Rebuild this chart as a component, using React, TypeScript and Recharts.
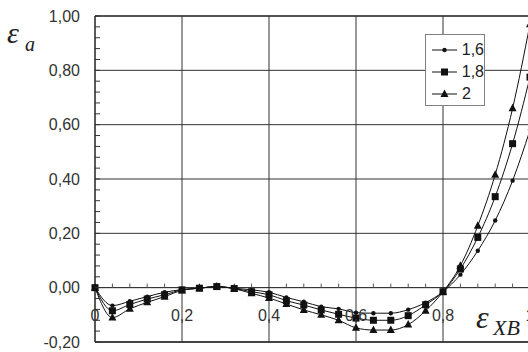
import { LineChart, Line, XAxis, YAxis, ReferenceLine, ReferenceDot, Legend } from 'recharts';

// relative strain on the x axis
const xValues = [
  0, 0.04, 0.08, 0.12, 0.16, 0.2, 0.24, 0.28, 0.32, 0.36, 0.4, 0.44, 0.48,
  0.52, 0.56, 0.6, 0.64, 0.68, 0.72, 0.76, 0.8, 0.84, 0.88, 0.92, 0.96, 1.0,
];
const series16 = [
  0, -0.066, -0.05, -0.033, -0.017, -0.007, -0.002, 0.004, -0.002, -0.008, -0.017, -0.036, -0.052,
  -0.07, -0.078, -0.092, -0.094, -0.094, -0.081, -0.055, -0.015, 0.048, 0.136, 0.247, 0.394, 0.58,
];
const series18 = [
  0, -0.085, -0.062, -0.042, -0.026, -0.008, -0.002, 0.004, -0.003, -0.015, -0.026, -0.048, -0.064,
  -0.082, -0.098, -0.112, -0.12, -0.12, -0.103, -0.063, -0.015, 0.069, 0.185, 0.335, 0.53, 0.775,
];
const series2 = [
  0, -0.11, -0.078, -0.054, -0.033, -0.01, -0.002, 0.004, -0.004, -0.021, -0.038, -0.06, -0.082,
  -0.1, -0.12, -0.148, -0.156, -0.156, -0.136, -0.085, -0.015, 0.081, 0.228, 0.416, 0.66, 0.97,
];
const seriesNames = ['1,6', '1,8', '2'];

const yMajorTicks = [-0.2, 0, 0.2, 0.4, 0.6, 0.8, 1.0];
const yTickLabels = ['-0,20', '0,00', '0,20', '0,40', '0,60', '0,80', '1,00'];
const xMajorTicks = [0, 0.2, 0.4, 0.6, 0.8, 1.0];
const xTickLabels = ['0', '0,2', '0,4', '0,6', '0,8', '1'];

const data = xValues.map((x, i) => ({ x, s16: series16[i], s18: series18[i], s2: series2[i] }));

// 5 subdivisions between major ticks
const minorStep = 0.04;
const yAllTicks: number[] = [];
for (let i = 0; i <= 30; i++) yAllTicks.push(Math.round((-0.2 + i * minorStep) * 100) / 100);
const xMinorTicks: number[] = [];
for (let i = 1; i < 25; i++) if (i % 5 !== 0) xMinorTicks.push(Math.round(i * minorStep * 100) / 100);

const FONT = '"Liberation Sans", Arial, sans-serif';
const SERIF = '"Liberation Serif", "Times New Roman", serif';
const INK = '#111';

const DotMark = ({ cx, cy }: any) => <circle cx={cx} cy={cy} r={2.2} fill={INK} />;
const SquareMark = ({ cx, cy }: any) => <rect x={cx - 3.5} y={cy - 3.5} width={7} height={7} fill={INK} />;
const TriMark = ({ cx, cy }: any) => (
  <polygon points={`${cx},${cy - 4.5} ${cx - 4},${cy + 3} ${cx + 4},${cy + 3}`} fill={INK} />
);
const marks = [DotMark, SquareMark, TriMark];

function YTick(props: any) {
  const { x, y, payload } = props;
  const idx = yMajorTicks.findIndex((t) => Math.abs(t - payload.value) < 1e-6);
  return (
    <g>
      <line x1={x + 15} x2={x + 20} y1={y} y2={y} stroke="#333" strokeWidth={1} />
      {idx >= 0 && (
        <text x={x} y={y} dy="0.36em" textAnchor="end" fontSize={16} fontFamily={FONT} fill="#333">
          {yTickLabels[idx]}
        </text>
      )}
    </g>
  );
}

function LegendBox() {
  return (
    <div
      style={{
        width: 58,
        height: 66,
        border: '1.5px solid #808080',
        background: '#fff',
        fontFamily: FONT,
        fontSize: 16,
        color: '#222',
        paddingTop: 4,
        boxSizing: 'content-box',
      }}
    >
      {seriesNames.map((name, i) => {
        const Mark = marks[i];
        return (
          <div key={name} style={{ display: 'flex', alignItems: 'center', height: 22 }}>
            <svg width={36} height={12} style={{ marginLeft: 6 }}>
              <line x1={0} x2={25} y1={6} y2={6} stroke={INK} strokeWidth={1} />
              <Mark cx={12.5} cy={6} />
            </svg>
            <span style={{ marginLeft: -6 }}>{name}</span>
          </div>
        );
      })}
    </div>
  );
}

export default function App() {
  return (
    <div
      style={{
        position: 'fixed',
        left: 0,
        top: 0,
        width: 528,
        height: 352,
        overflow: 'hidden',
        background: '#fff',
      }}
    >
      <LineChart width={560} height={352} data={data} margin={{ top: 16, right: 30, bottom: 10, left: 0 }}>
        <XAxis dataKey="x" type="number" domain={[0, 1]} hide />
        <YAxis
          type="number"
          domain={[-0.2, 1]}
          ticks={yAllTicks}
          interval={0}
          width={95}
          tickSize={0}
          tickMargin={15}
          axisLine={{ stroke: '#222', strokeWidth: 1.5 }}
          tick={(p: any) => <YTick {...p} />}
        />
        {[0.2, 0.4, 0.6, 0.8].map((v) => (
          <ReferenceLine key={'h' + v} y={v} stroke="#333" strokeWidth={1} />
        ))}
        <ReferenceLine y={1} stroke="#555" strokeWidth={2} />
        <ReferenceLine y={-0.2} stroke="#444" strokeWidth={2} />
        {xMajorTicks.slice(1).map((v) => (
          <ReferenceLine key={'v' + v} x={v} stroke="#333" strokeWidth={1} />
        ))}
        <ReferenceLine y={0} stroke={INK} strokeWidth={1} />
        {xMinorTicks.map((v) => (
          <ReferenceLine key={'m' + v} segment={[{ x: v, y: 0 }, { x: v, y: 0.015 }]} stroke="#555" />
        ))}
        {xMajorTicks.map((v, i) => (
          <ReferenceDot
            key={'l' + v}
            x={v}
            y={0}
            r={0}
            fill="none"
            stroke="none"
            label={{ value: xTickLabels[i], position: 'bottom', offset: 22, fill: '#333', fontSize: 16, fontFamily: FONT }}
          />
        ))}
        <Line type="monotone" dataKey="s16" name={seriesNames[0]} stroke={INK} strokeWidth={1} dot={<DotMark />} isAnimationActive={false} />
        <Line type="monotone" dataKey="s18" name={seriesNames[1]} stroke={INK} strokeWidth={1} dot={<SquareMark />} isAnimationActive={false} />
        <Line type="monotone" dataKey="s2" name={seriesNames[2]} stroke={INK} strokeWidth={1} dot={<TriMark />} isAnimationActive={false} />
        <Legend
          layout="vertical"
          align="center"
          verticalAlign="middle"
          content={() => <LegendBox />}
          wrapperStyle={{ left: 425, top: 34, width: 61, height: 70 }}
        />
      </LineChart>
      <svg width={528} height={352} style={{ position: 'absolute', left: 0, top: 0, pointerEvents: 'none' }}>
        <text x={7} y={43} fontFamily={SERIF} fontStyle="italic" fontSize={30} fill="#222">ε</text>
        <text x={25} y={51} fontFamily={SERIF} fontStyle="italic" fontSize={20} fill="#222">a</text>
        <text x={476} y={328} fontFamily={SERIF} fontStyle="italic" fontSize={32} fill="#222">ε</text>
        <text x={493} y={335} fontFamily={SERIF} fontStyle="italic" fontSize={22} fill="#222">XB</text>
      </svg>
    </div>
  );
}
